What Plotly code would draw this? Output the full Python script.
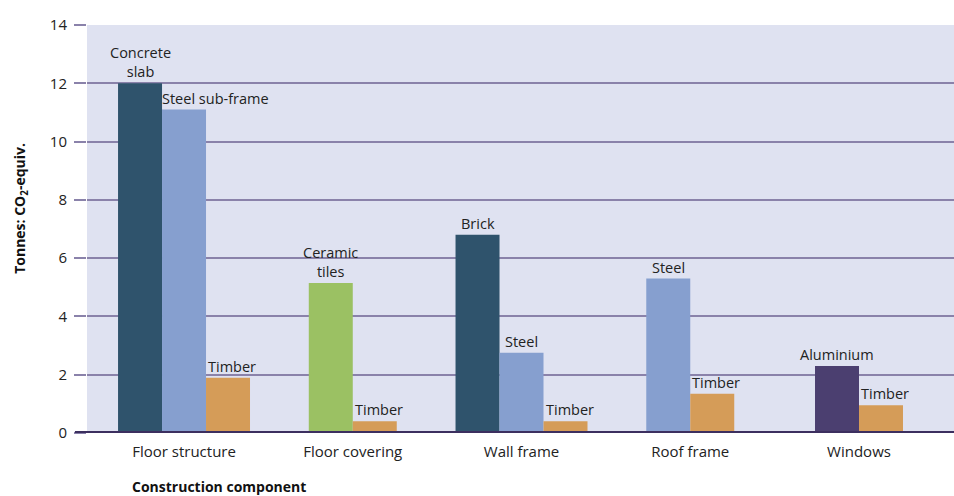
import plotly.graph_objects as go

# ---- data ----
components = ["Floor structure", "Floor covering", "Wall frame", "Roof frame", "Windows"]
bar_component = ["Floor structure", "Floor structure", "Floor structure",
                 "Floor covering", "Floor covering",
                 "Wall frame", "Wall frame", "Wall frame",
                 "Roof frame", "Roof frame",
                 "Windows", "Windows"]
bar_material = ["Concrete", "Steel", "Timber",
                "Ceramic", "Timber",
                "Concrete", "Steel", "Timber",
                "Steel", "Timber",
                "Aluminium", "Timber"]
bar_label = ["Concrete<br>slab", "Steel sub-frame", "Timber",
             "Ceramic<br>tiles", "Timber",
             "Brick", "Steel", "Timber",
             "Steel", "Timber",
             "Aluminium", "Timber"]
bar_value = [12.0, 11.1, 1.9,
             5.15, 0.4,
             6.8, 2.75, 0.4,
             5.3, 1.35,
             2.3, 0.95]
y_ticks = [0, 2, 4, 6, 8, 10, 12, 14]

# ---- styles ----
material_colors = {
    "Concrete": "#2f536c",
    "Steel": "#869fcf",
    "Timber": "#d59c58",
    "Ceramic": "#9bc163",
    "Aluminium": "#4b3f70",
}
left_aligned_labels = {"Steel sub-frame"}
BAR_W = 0.2607
FONT = "Open Sans"
GRID = "#8a82aa"

# slot offsets within each component group
counts = {c: bar_component.count(c) for c in components}
seen = {c: 0 for c in components}
offsets = []
for c in bar_component:
    i = seen[c]
    seen[c] += 1
    offsets.append((i - counts[c] / 2) * BAR_W)

fig = go.Figure()
fig.add_trace(go.Bar(
    x=bar_component, y=bar_value,
    offset=offsets, width=BAR_W,
    marker=dict(color=[material_colors[m] for m in bar_material], line=dict(width=0)),
    showlegend=False, hoverinfo="skip",
))

annotations = []
for comp, lab, val, off, mat in zip(bar_component, bar_label, bar_value, offsets, bar_material):
    idx = components.index(comp)
    if lab in left_aligned_labels:
        x, anchor, shift = idx + off, "left", -2
    else:
        x, anchor, shift = idx + off + BAR_W / 2, "center", (4 if mat == "Timber" else 0)
    annotations.append(dict(
        x=x, y=val, xref="x", yref="y", text=lab, showarrow=False,
        xanchor=anchor, yanchor="bottom", xshift=shift, yshift=0,
        font=dict(family=FONT, size=14.5, color="#222222"), align="center",
    ))

annotations.append(dict(
    x=0.0496, y=-0.132, xref="paper", yref="paper",
    text="<b>Construction component</b>", showarrow=False,
    xanchor="left", yanchor="middle",
    font=dict(family=FONT, size=14, color="#111111"),
))
annotations.append(dict(
    x=-0.077, y=0.55, xref="paper", yref="paper",
    text="<b>Tonnes: CO<sub>2</sub>-equiv.</b>", showarrow=False, textangle=-90,
    xanchor="center", yanchor="middle",
    font=dict(family=FONT, size=14, color="#111111"),
))

fig.update_layout(
    width=954, height=496,
    margin=dict(l=87, r=0, t=25, b=63),
    paper_bgcolor="white", plot_bgcolor="#dfe2f1",
    annotations=annotations,
    shapes=[dict(type="line", xref="paper", yref="y", x0=-0.0139, x1=1, y0=0, y1=0,
                 line=dict(color="#3c2f5f", width=4), layer="above")],
)
fig.update_xaxes(
    type="category", categoryorder="array", categoryarray=components,
    range=[-0.575, 4.563], showgrid=False, zeroline=False, showline=False,
    ticks="", ticklabelstandoff=8,
    tickfont=dict(family=FONT, size=15, color="#222222"),
)
fig.update_yaxes(
    range=[0, 14], tickvals=y_ticks, showgrid=True, gridcolor=GRID, gridwidth=2,
    zeroline=False, showline=False, ticks="outside", ticklen=12, tickcolor=GRID,
    tickwidth=2, ticklabelstandoff=4,
    tickfont=dict(family=FONT, size=15, color="#222222"),
)

fig.write_html("out.html")
